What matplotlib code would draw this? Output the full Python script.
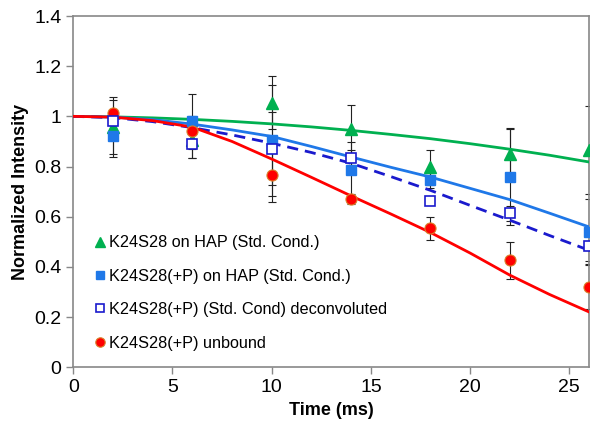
import numpy as np
import matplotlib
matplotlib.use("Agg")
import matplotlib.pyplot as plt

plt.rcParams['font.family'] = ['Liberation Sans', 'DejaVu Sans']

# measured points
t = [2, 6, 10, 14, 18, 22, 26]
hap = [0.957, 0.904, 1.054, 0.95, 0.797, 0.85, 0.865]
hap_err = [0.12, 0.07, 0.105, 0.095, 0.07, 0.105, 0.175]
hapP = [0.92, 0.98, 0.904, 0.787, 0.745, 0.758, 0.539]
hapP_err = [0.07, 0.11, 0.22, 0.11, 0.03, 0.19, 0.13]
deconv = [0.98, 0.888, 0.871, 0.835, 0.663, 0.613, 0.483]
deconv_err = [0.03, 0.055, 0.145, 0.03, 0.01, 0.03, 0.06]
unbound = [1.015, 0.94, 0.768, 0.672, 0.553, 0.426, 0.32]
unbound_err = [0.05, 0.063, 0.11, 0.02, 0.047, 0.075, 0.09]

# fitted curves
tc = [0, 2, 4, 6, 8, 10, 12, 14, 16, 18, 20, 22, 24, 26]
fit_hap = [1.0, 0.998, 0.994, 0.988, 0.98, 0.97, 0.958, 0.944, 0.928, 0.911, 0.891, 0.869, 0.845, 0.818]
fit_hapP = [1.0, 0.997, 0.987, 0.969, 0.946, 0.92, 0.88, 0.838, 0.797, 0.758, 0.713, 0.668, 0.614, 0.559]
fit_deconv = [1.0, 0.995, 0.979, 0.955, 0.926, 0.893, 0.856, 0.813, 0.76, 0.705, 0.645, 0.586, 0.525, 0.466]
fit_unbound = [1.0, 0.997, 0.983, 0.957, 0.9, 0.83, 0.757, 0.683, 0.611, 0.537, 0.455, 0.367, 0.29, 0.22]

labels = ["K24S28 on HAP (Std. Cond.)",
          "K24S28(+P) on HAP (Std. Cond.)",
          "K24S28(+P) (Std. Cond) deconvoluted",
          "K24S28(+P) unbound"]

green = "#00B050"
blue = "#1F78E8"
dblue = "#1A1ACD"
red = "#FF0000"

fig = plt.figure(figsize=(6, 4.33), dpi=100)
ax = fig.add_axes([0.122, 0.152, 0.86, 0.811])

# error bars first (black, thin)
for y, e in [(hap, hap_err), (hapP, hapP_err), (deconv, deconv_err), (unbound, unbound_err)]:
    ax.errorbar(t, y, yerr=e, fmt='none', ecolor='#222222', elinewidth=0.8,
                capsize=3, capthick=0.8, zorder=2)

ax.plot(tc, fit_hap, color=green, lw=2, zorder=3)
ax.plot(tc, fit_hapP, color=blue, lw=2, zorder=3)
ax.plot(tc, fit_deconv, color=dblue, lw=2, ls=(0, (4, 2.5)), zorder=3)
ax.plot(tc, fit_unbound, color=red, lw=2, zorder=3)

ax.plot(t, hap, '^', color=green, ms=9, ls='none', label=labels[0], zorder=4)
ax.plot(t, hapP, 's', color=blue, ms=7.5, ls='none', label=labels[1], zorder=4)
ax.plot(t, deconv, 's', mfc='white', mec=dblue, mew=1.2, ms=7.5, ls='none',
        label=labels[2], zorder=5)
ax.plot(t, unbound, 'o', color=red, mec='#D9822B', mew=0.8, ms=8, ls='none',
        label=labels[3], zorder=4)

ax.set_xlim(0, 26)
ax.set_ylim(0, 1.4)
ax.set_xticks([0, 5, 10, 15, 20, 25])
ax.set_yticks([0, 0.2, 0.4, 0.6, 0.8, 1.0, 1.2, 1.4])
ax.set_yticklabels(["0", "0.2", "0.4", "0.6", "0.8", "1", "1.2", "1.4"])
ax.tick_params(labelsize=14, direction='out', length=5, color='#888888', width=1)
for s in ax.spines.values():
    s.set_color('#888888')
    s.set_linewidth(1.2)

ax.set_xlabel("Time (ms)", fontsize=13, fontweight='bold')
ax.set_ylabel("Normalized Intensity", fontsize=13, fontweight='bold')

ax.legend(loc='lower left', bbox_to_anchor=(0.027, 0.029), frameon=False,
          fontsize=11.7, handlelength=0.8, handletextpad=0.15, labelspacing=1.13,
          borderaxespad=0, markerscale=0.85)

fig.savefig("out.png", dpi=100)
